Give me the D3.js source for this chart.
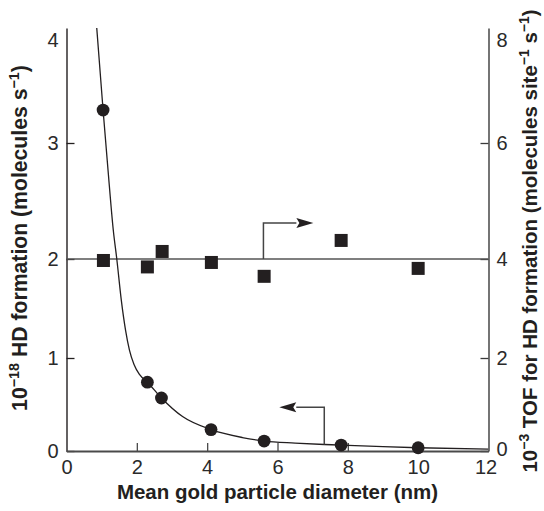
<!DOCTYPE html>
<html>
<head>
<meta charset="utf-8">
<script src="https://cdn.jsdelivr.net/npm/d3@7"></script>
<style>
  html, body { margin: 0; padding: 0; background: #fff; }
  svg { display: block; font-family: "Liberation Sans", Arial, Helvetica, sans-serif; }
</style>
</head>
<body>
<svg id="chart" width="544" height="511"></svg>
<script>
// Mean gold particle diameter (nm) for each catalyst sample
const diameters = [1.04, 2.30, 2.70, 4.11, 5.62, 7.81, 10.0];
// HD formation rate, 10^-18 molecules s^-1 (left axis, circles)
const hdRate = [3.32, 0.74, 0.57, 0.23, 0.107, 0.064, 0.035];
// Diameters for the TOF measurements (squares)
const tofDiameters = [1.05, 2.30, 2.72, 4.12, 5.62, 7.81, 10.0];
// Turnover frequency, 10^-3 molecules site^-1 s^-1 (right axis, squares)
const tofValues = [3.97, 3.84, 4.13, 3.93, 3.65, 4.32, 3.81];
// Smooth trend drawn through the rate data
const trendX = [0.86, 1.04, 1.18, 1.33, 1.43, 1.56, 1.68, 1.79, 1.92, 2.08, 2.30, 2.70, 3.30, 4.11, 5.00, 5.62, 6.50, 7.33, 7.81, 9.00, 10.0, 12.0];
const trendY = [4.12, 3.32, 2.77, 2.25, 2.00, 1.58, 1.28, 1.08, 0.93, 0.82, 0.74, 0.57, 0.37, 0.23, 0.145, 0.107, 0.085, 0.07, 0.064, 0.047, 0.035, 0.02];
// Mean TOF level
const tofMean = 4;
// Tick labels
const xTicks = [0, 2, 4, 6, 8, 10, 12];
const yLeftTicks = [0, 1, 2, 3, 4];
const yRightTicks = [0, 2, 4, 6, 8];
// Arrows pointing each series to its axis (data units)
const arrowToRight = [[5.6, 4.0], [5.6, 4.62], [7.02, 4.62]];   // right-axis units
const arrowToLeft = [[7.33, 0.07], [7.33, 0.47], [6.05, 0.47]];  // left-axis units

const svg = d3.select("#chart");
const ink = "#231f20";

const x = d3.scaleLinear().domain([0, 12]).range([66.5, 488.5]);
// Vertical axes follow the printed tick spacing of the original figure
const yL = d3.scaleLinear().domain([0, 1, 2, 3, 4, 4.12]).range([451, 358, 259, 143, 40, 28]);
const yR = d3.scaleLinear().domain([0, 2, 4, 6, 8, 8.24]).range([451, 358, 259, 143, 40, 28]);

function styleAxis(g, color, width) {
  g.select(".domain").attr("stroke", color).attr("stroke-width", width);
  g.selectAll(".tick line").attr("stroke", color).attr("stroke-width", 1.3);
  g.selectAll(".tick text").attr("fill", "#2a2a2a").attr("font-size", 20)
    .attr("font-family", "'Liberation Sans', Arial, sans-serif");
}

// Left axis
const gL = svg.append("g").attr("transform", `translate(${x(0)},0)`)
  .call(d3.axisLeft(yL).tickValues(yLeftTicks).tickFormat(d3.format("d"))
    .tickSize(-8).tickSizeOuter(0).tickPadding(8));
styleAxis(gL, ink, 1.4);
gL.selectAll(".tick").filter(d => d === 4).select("line").remove();

// Right axis
const gR = svg.append("g").attr("transform", `translate(${x(12)},0)`)
  .call(d3.axisRight(yR).tickValues(yRightTicks).tickFormat(d3.format("d"))
    .tickSize(-8).tickSizeOuter(0).tickPadding(8));
styleAxis(gR, "#3a3a3a", 1.4);
gR.selectAll(".tick").filter(d => d === 8).select("line").remove();
gR.selectAll(".tick").filter(d => d === 0).select("text").attr("dy", "0.2em");

// Bottom axis
const gX = svg.append("g").attr("transform", `translate(0,${yL(0)})`)
  .call(d3.axisBottom(x).tickValues(xTicks).tickFormat(d3.format("d"))
    .tickSize(-8).tickSizeOuter(0).tickPadding(9));
styleAxis(gX, "#4a4a4a", 2);
gX.selectAll(".tick").filter(d => d === 0 || d === 12).select("line").remove();
gX.selectAll(".tick").filter(d => d === 12).select("text").attr("dx", -3);

// Mean TOF level line
svg.append("line")
  .attr("x1", x(0)).attr("x2", x(12))
  .attr("y1", yR(tofMean)).attr("y2", yR(tofMean))
  .attr("stroke", "#555").attr("stroke-width", 1.6);

// Trend curve through the HD formation rate
svg.append("defs").append("clipPath").attr("id", "plotClip")
  .append("rect").attr("x", x(0)).attr("y", yL(4.12))
  .attr("width", x(12) - x(0)).attr("height", yL(0) - yL(4.12));
const trendPts = trendX.map((d, i) => [d, trendY[i]]);
svg.append("path")
  .datum(trendPts)
  .attr("clip-path", "url(#plotClip)")
  .attr("fill", "none").attr("stroke", ink).attr("stroke-width", 1.3)
  .attr("d", d3.line().x(d => x(d[0])).y(d => yL(d[1])).curve(d3.curveMonotoneX));

// Arrows
function drawArrow(pts, yScale) {
  const p = pts.map(d => [x(d[0]), yScale(d[1])]);
  const last = p[p.length - 1], prev = p[p.length - 2];
  const dir = Math.sign(last[0] - prev[0]);
  const headLen = 17, half = 5;
  const base = [last[0] - dir * headLen, last[1]];
  const shaft = p.slice(0, -1).concat([base]);
  svg.append("path").attr("d", d3.line()(shaft))
    .attr("fill", "none").attr("stroke", "#444").attr("stroke-width", 1.5);
  svg.append("path")
    .attr("d", `M${last[0]},${last[1]}L${base[0]},${base[1] - half}L${base[0] + dir * 3},${base[1]}L${base[0]},${base[1] + half}Z`)
    .attr("fill", ink);
}
drawArrow(arrowToRight, yR);
drawArrow(arrowToLeft, yL);

// TOF squares
const side = 13;
svg.append("g").selectAll("rect")
  .data(tofDiameters.map((d, i) => [d, tofValues[i]]))
  .join("rect")
  .attr("x", d => x(d[0]) - side / 2).attr("y", d => yR(d[1]) - side / 2)
  .attr("width", side).attr("height", side)
  .attr("fill", ink);

// HD rate circles
svg.append("g").selectAll("circle")
  .data(diameters.map((d, i) => [d, hdRate[i]]))
  .join("circle")
  .attr("cx", d => x(d[0])).attr("cy", d => yL(d[1]))
  .attr("r", 6.4).attr("fill", ink);

// Axis titles
svg.append("text")
  .attr("x", (x(0) + x(12)) / 2).attr("y", 499)
  .attr("text-anchor", "middle").attr("font-size", 20.5).attr("font-weight", "bold")
  .attr("fill", ink)
  .text("Mean gold particle diameter (nm)");

function rotatedTitle(cx, cy, size, parts) {
  const t = svg.append("text")
    .attr("transform", `translate(${cx},${cy}) rotate(-90)`)
    .attr("text-anchor", "middle").attr("font-size", size).attr("font-weight", "bold")
    .attr("fill", ink);
  parts.forEach(p => {
    const s = t.append("tspan").text(p.text);
    if (p.sup) s.attr("font-size", size * 0.68).attr("dy", -8);
    else if (p.after) s.attr("dy", 8);
  });
  return t;
}
rotatedTitle(27, 238, 21.2, [
  { text: "10" }, { text: "\u221218", sup: true },
  { text: " HD formation (molecules s", after: true },
  { text: "\u22121", sup: true }, { text: ")", after: true }
]);
rotatedTitle(537, 241, 20.5, [
  { text: "10" }, { text: "\u22123", sup: true },
  { text: " TOF for HD formation (molecules site", after: true },
  { text: "\u22121", sup: true }, { text: " s", after: true },
  { text: "\u22121", sup: true }, { text: ")", after: true }
]);
</script>
</body>
</html>
